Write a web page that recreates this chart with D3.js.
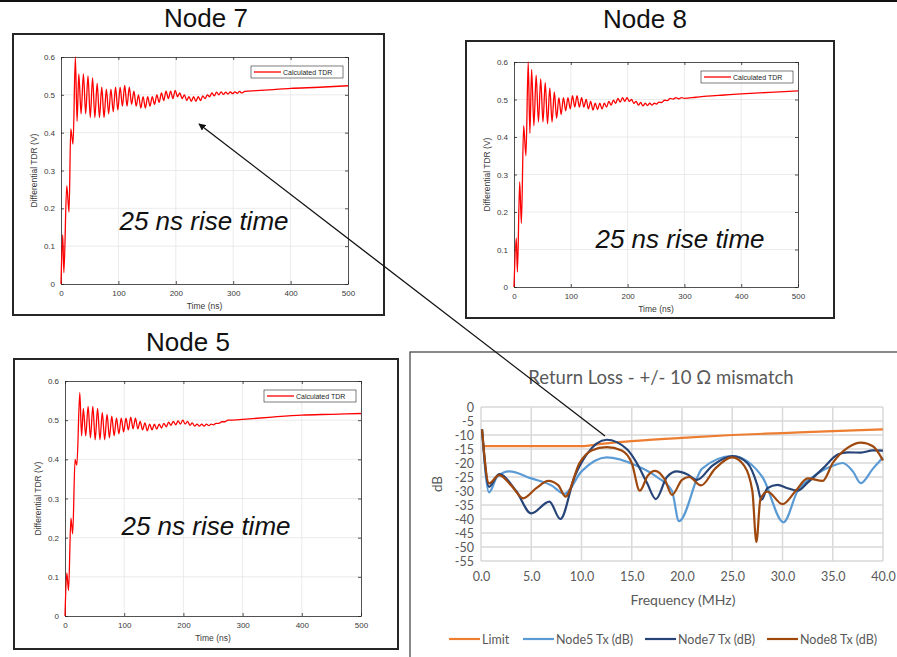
<!DOCTYPE html>
<html>
<head>
<meta charset="utf-8">
<script src="https://cdn.jsdelivr.net/npm/d3@7"></script>
<style>
  body { margin: 0; background: #fff; }
  svg { display: block; }
</style>
</head>
<body>
<div class="container"></div>
<script>
const W = 897, H = 657;

// ---- TDR data (time ns, volts) ----
const timeTicks = [0, 100, 200, 300, 400, 500];
const voltTicks = [0, 0.1, 0.2, 0.3, 0.4, 0.5, 0.6];

const node7Tdr = [
  [0,0],[3,0.13],[5,0.03],[10,0.26],[14,0.19],[17,0.41],[21,0.37],[25,0.6],[28,0.43],
  [31,0.555],[35,0.45],[39,0.555],[43,0.45],[47,0.55],[51,0.44],[55,0.545],[59,0.44],
  [63,0.53],[67,0.44],[71,0.52],[75,0.44],[79,0.515],[83,0.45],[87,0.515],[91,0.455],
  [95,0.52],[99,0.46],[103,0.52],[107,0.47],[111,0.525],[115,0.47],[119,0.52],[123,0.475],
  [127,0.51],[131,0.47],[135,0.5],[139,0.465],[143,0.495],[147,0.465],[151,0.495],[155,0.47],
  [159,0.495],[163,0.475],[167,0.5],[171,0.48],[175,0.505],[179,0.485],[183,0.51],[187,0.49],
  [191,0.51],[195,0.49],[199,0.512],[203,0.495],[207,0.505],[211,0.49],[215,0.5],[219,0.485],
  [223,0.495],[227,0.483],[231,0.495],[235,0.483],[239,0.495],[243,0.485],[247,0.497],[251,0.49],
  [255,0.5],[259,0.495],[263,0.505],[267,0.497],[271,0.507],[275,0.5],[279,0.508],[283,0.501],
  [287,0.507],[291,0.502],[295,0.508],[299,0.503],[303,0.508],[307,0.504],[311,0.509],[315,0.505],
  [320,0.509],[340,0.511],[370,0.514],[400,0.517],[450,0.52],[500,0.524]
];

const node8Tdr = [
  [0,0],[4,0.13],[6,0.04],[10,0.28],[13,0.17],[17,0.43],[21,0.35],[25,0.6],[28,0.41],
  [31,0.58],[35,0.43],[39,0.565],[43,0.44],[47,0.555],[51,0.44],[55,0.545],[59,0.435],
  [63,0.53],[67,0.44],[71,0.52],[75,0.45],[79,0.505],[83,0.46],[87,0.505],[91,0.47],
  [95,0.505],[99,0.475],[103,0.51],[107,0.48],[111,0.51],[115,0.48],[119,0.505],[123,0.48],
  [127,0.5],[131,0.475],[135,0.495],[139,0.472],[143,0.49],[147,0.473],[151,0.49],[155,0.475],
  [159,0.49],[163,0.48],[167,0.495],[171,0.485],[175,0.498],[179,0.49],[183,0.503],[187,0.493],
  [191,0.505],[195,0.495],[199,0.505],[203,0.495],[207,0.5],[211,0.49],[215,0.495],[219,0.485],
  [223,0.492],[227,0.483],[231,0.49],[235,0.484],[239,0.49],[243,0.485],[247,0.49],[251,0.488],
  [255,0.493],[260,0.492],[265,0.498],[270,0.497],[275,0.503],[280,0.501],[285,0.505],[290,0.502],
  [295,0.505],[300,0.503],[320,0.506],[340,0.509],[370,0.512],[400,0.515],[450,0.519],[500,0.523]
];

const node5Tdr = [
  [0,0],[3,0.11],[6,0.065],[10,0.25],[13,0.21],[17,0.4],[20,0.385],[25,0.57],[28,0.46],
  [31,0.53],[35,0.46],[39,0.535],[43,0.455],[47,0.535],[51,0.45],[55,0.53],[59,0.45],
  [63,0.52],[67,0.45],[71,0.515],[75,0.455],[79,0.51],[83,0.46],[87,0.505],[91,0.465],
  [95,0.505],[99,0.47],[103,0.505],[107,0.475],[111,0.508],[115,0.478],[119,0.505],[123,0.478],
  [127,0.497],[131,0.475],[135,0.493],[139,0.473],[143,0.49],[147,0.475],[151,0.49],[155,0.477],
  [159,0.49],[163,0.48],[167,0.492],[171,0.483],[175,0.495],[179,0.487],[183,0.497],[187,0.488],
  [191,0.498],[195,0.49],[199,0.5],[203,0.49],[207,0.497],[211,0.487],[215,0.493],[219,0.485],
  [223,0.49],[227,0.485],[231,0.49],[235,0.485],[239,0.49],[243,0.486],[247,0.49],[251,0.488],
  [255,0.492],[260,0.492],[265,0.496],[270,0.496],[275,0.5],[285,0.5],[300,0.502],[350,0.508],
  [400,0.513],[450,0.515],[500,0.517]
];

// ---- Return loss data (frequency MHz, dB) ----
const freqTicks = [0, 5, 10, 15, 20, 25, 30, 35, 40];
const dbTicks = [0, -5, -10, -15, -20, -25, -30, -35, -40, -45, -50, -55];
const rlSeries = ["Limit", "Node5 Tx (dB)", "Node7 Tx (dB)", "Node8 Tx (dB)"];
const rlColors = ["#ED7D31", "#5B9BD5", "#264478", "#9E480E"];

const limitDb = [[0.2,-14],[10,-14],[12,-13.2],[15,-12.2],[20,-11],[25,-10],[30,-9.3],[35,-8.6],[40,-8]];
const node5Db = [
  [0.1,-8],[0.8,-30.5],[1.6,-25],[2.8,-23],[5,-25.5],[7,-28],[8.3,-31],[10,-23],[12.5,-18],
  [15.5,-21],[17.5,-25],[19,-30],[19.7,-40.8],[22,-22],[25,-17.5],[28,-25],[30.1,-41.2],
  [31.5,-30],[33,-25],[35,-21],[36,-20],[37,-23],[37.8,-27.2],[39,-22],[40,-18]
];
const node7Db = [
  [0.1,-8],[0.8,-28.5],[1.8,-24],[3.5,-30],[5,-38],[6.8,-33.8],[7.9,-40],[9.3,-25],[10.5,-17],
  [12.5,-11.7],[14.5,-15],[15.5,-20],[16.5,-27],[17.4,-32.9],[18.5,-25],[19.5,-23],[20.5,-24],
  [21.5,-26],[23,-21],[25,-17.5],[26.5,-20],[27.5,-28],[27.9,-33.2],[28.5,-29],[29.5,-27.8],
  [30.5,-29],[31.5,-29.9],[32.5,-27],[34,-22],[35.5,-17],[36.5,-16.2],[37.8,-16.3],[39,-15.5],[40,-15.6]
];
const node8Db = [
  [0.1,-8],[0.8,-27.3],[1.8,-24.3],[3,-28],[4.2,-32.6],[5.5,-29],[6.7,-26.4],[7.7,-28],[8.4,-32],
  [9.8,-20],[11,-15.5],[12.5,-14.3],[14,-15.5],[15,-20],[15.8,-29.9],[16.6,-24.5],[17.3,-22.8],
  [18.3,-26],[19,-31.4],[20,-26],[20.7,-25],[21.9,-28],[23.3,-22],[25,-18],[26.2,-21],[27,-30],
  [27.4,-48.2],[27.8,-33],[28.5,-30.2],[30,-34.7],[31.3,-30],[32.5,-25.5],[34,-26.4],[35,-20],
  [36.5,-14.5],[37.8,-12.7],[39,-14],[40,-19.1]
];
const rlData = [limitDb, node5Db, node7Db, node8Db];

const svg = d3.select(".container").append("svg")
  .attr("width", W).attr("height", H)
  .attr("viewBox", [0, 0, W, H]);

svg.append("defs").append("marker")
  .attr("id", "arrowHead")
  .attr("viewBox", "0 0 10 10")
  .attr("refX", 9).attr("refY", 5)
  .attr("markerWidth", 7).attr("markerHeight", 7)
  .attr("markerUnits", "userSpaceOnUse")
  .attr("orient", "auto")
  .append("path").attr("d", "M0,0L10,5L0,10Z").attr("fill", "#111");

// top rule
svg.append("line").attr("x1", 0).attr("x2", W).attr("y1", 1).attr("y2", 1)
  .attr("stroke", "#111").attr("stroke-width", 2);

const matFont = "'Liberation Sans', Arial, sans-serif";

function drawNode(p) {
  const g = svg.append("g");
  g.append("rect")
    .attr("x", p.frame[0]).attr("y", p.frame[1])
    .attr("width", p.frame[2] - p.frame[0]).attr("height", p.frame[3] - p.frame[1])
    .attr("fill", "#fff").attr("stroke", "#262626").attr("stroke-width", 2);

  g.append("text").attr("x", p.title[0]).attr("y", p.title[1])
    .attr("text-anchor", "middle").attr("font-family", matFont).attr("font-size", 26)
    .attr("fill", "#111").text(p.name);

  const x = d3.scaleLinear().domain([0, 500]).range([p.plot[0], p.plot[2]]);
  const y = d3.scaleLinear().domain([0, 0.6]).range([p.plot[3], p.plot[1]]);

  // grid
  g.append("g").selectAll("line").data(timeTicks.slice(1, -1)).join("line")
    .attr("x1", d => x(d)).attr("x2", d => x(d)).attr("y1", y(0)).attr("y2", y(0.6))
    .attr("stroke", "#e6e6e6").attr("stroke-width", 0.8);
  g.append("g").selectAll("line").data(voltTicks.slice(1, -1)).join("line")
    .attr("y1", d => y(d)).attr("y2", d => y(d)).attr("x1", x(0)).attr("x2", x(500))
    .attr("stroke", "#e6e6e6").attr("stroke-width", 0.8);

  const fmtV = d3.format("~g");
  const axes = [
    [d3.axisBottom(x).tickValues(timeTicks), `translate(0,${y(0)})`],
    [d3.axisTop(x).tickValues(timeTicks).tickFormat(""), `translate(0,${y(0.6)})`],
    [d3.axisLeft(y).tickValues(voltTicks).tickFormat(fmtV), `translate(${x(0)},0)`],
    [d3.axisRight(y).tickValues(voltTicks).tickFormat(""), `translate(${x(500)},0)`]
  ];
  axes.forEach(([ax, tr]) => {
    const a = g.append("g").attr("transform", tr)
      .call(ax.tickSizeInner(-3).tickSizeOuter(0).tickPadding(6));
    a.select(".domain").attr("stroke", "#262626").attr("stroke-width", 0.8);
    a.selectAll(".tick line").attr("stroke", "#262626").attr("stroke-width", 0.8);
    a.selectAll("text").attr("font-family", matFont).attr("font-size", 8).attr("fill", "#3a3a3a");
  });

  g.append("text")
    .attr("transform", `translate(${p.plot[0] - 24},${(p.plot[1] + p.plot[3]) / 2}) rotate(-90)`)
    .attr("text-anchor", "middle").attr("font-family", matFont).attr("font-size", 8.5)
    .attr("fill", "#3a3a3a").text("Differential TDR (V)");
  g.append("text")
    .attr("x", (p.plot[0] + p.plot[2]) / 2).attr("y", p.plot[3] + 25)
    .attr("text-anchor", "middle").attr("font-family", matFont).attr("font-size", 8.5)
    .attr("fill", "#3a3a3a").text("Time (ns)");

  const line = d3.line().x(d => x(d[0])).y(d => y(d[1])).curve(d3.curveMonotoneX);
  g.append("path").datum(p.data)
    .attr("fill", "none").attr("stroke", "#ff0000").attr("stroke-width", 1.3)
    .attr("d", line);

  // legend
  const lx = p.plot[2] - 97, ly = p.plot[1] + 9;
  g.append("rect").attr("x", lx).attr("y", ly).attr("width", 92).attr("height", 12)
    .attr("fill", "#fff").attr("stroke", "#262626").attr("stroke-width", 0.6);
  g.append("line").attr("x1", lx + 3).attr("x2", lx + 30).attr("y1", ly + 6).attr("y2", ly + 6)
    .attr("stroke", "#ff0000").attr("stroke-width", 1.3);
  g.append("text").attr("x", lx + 32).attr("y", ly + 8.7)
    .attr("font-family", matFont).attr("font-size", 7).attr("fill", "#262626")
    .text("Calculated TDR");

  g.append("text").attr("x", p.rise[0]).attr("y", p.rise[1])
    .attr("text-anchor", "middle").attr("font-family", matFont).attr("font-style", "italic")
    .attr("font-size", 26).attr("fill", "#111").text("25 ns rise time");
}

drawNode({ name: "Node 7", frame: [13, 34, 384, 315], plot: [61, 57, 348, 284],
  title: [206, 27], rise: [204, 230], data: node7Tdr });
drawNode({ name: "Node 8", frame: [466, 41, 834, 318], plot: [514, 62, 798, 287],
  title: [645, 28], rise: [680, 248], data: node8Tdr });
drawNode({ name: "Node 5", frame: [14, 359, 398, 649], plot: [65, 381, 361, 616],
  title: [188, 351], rise: [206, 535], data: node5Tdr });

// ---- Return loss (Excel style) ----
const xlFont = "Lato, 'Open Sans', sans-serif";
const rl = svg.append("g");
rl.append("rect").attr("x", 410).attr("y", 352).attr("width", W).attr("height", H)
  .attr("fill", "#fff").attr("stroke", "#3a3a3a").attr("stroke-width", 1.2);

const fx = d3.scaleLinear().domain([0, 40]).range([481, 883]);
const fy = d3.scaleLinear().domain([-55, 0]).range([561, 407]);

rl.append("g").selectAll("line").data(freqTicks).join("line")
  .attr("x1", d => fx(d)).attr("x2", d => fx(d)).attr("y1", fy(0)).attr("y2", fy(-55))
  .attr("stroke", "#d9d9d9").attr("stroke-width", 1.5);
rl.append("g").selectAll("line").data(dbTicks).join("line")
  .attr("y1", d => fy(d)).attr("y2", d => fy(d)).attr("x1", fx(0)).attr("x2", fx(40))
  .attr("stroke", "#d9d9d9").attr("stroke-width", 1.5);

const xAx = rl.append("g").attr("transform", `translate(0,${fy(-55)})`)
  .call(d3.axisBottom(fx).tickValues(freqTicks).tickFormat(d3.format(".1f")).tickSize(0).tickPadding(11));
const yAx = rl.append("g").attr("transform", `translate(${fx(0)},0)`)
  .call(d3.axisLeft(fy).tickValues(dbTicks).tickFormat(d => d).tickSize(0).tickPadding(7));
[xAx, yAx].forEach(a => {
  a.select(".domain").remove();
  a.selectAll("text").attr("font-family", xlFont).attr("font-size", 12.5).attr("fill", "#595959");
});

rl.append("text").attr("x", 661).attr("y", 384).attr("text-anchor", "middle")
  .attr("font-family", xlFont).attr("font-size", 18.5).attr("fill", "#595959")
  .text("Return Loss - +/- 10 Ω mismatch");
rl.append("text").attr("x", 683).attr("y", 605).attr("text-anchor", "middle")
  .attr("font-family", xlFont).attr("font-size", 14).attr("fill", "#595959")
  .text("Frequency (MHz)");
rl.append("text").attr("transform", `translate(442,484) rotate(-90)`).attr("text-anchor", "middle")
  .attr("font-family", xlFont).attr("font-size", 13.5).attr("fill", "#595959").text("dB");

const rlLine = d3.line().x(d => fx(d[0])).y(d => fy(d[1])).curve(d3.curveMonotoneX);
rl.append("g").selectAll("path").data(rlData).join("path")
  .attr("fill", "none").attr("stroke", (d, i) => rlColors[i]).attr("stroke-width", 2.2)
  .attr("stroke-linejoin", "round").attr("d", rlLine);

const legX = [449, 523, 645, 767];
const leg = rl.append("g").selectAll("g").data(rlSeries).join("g")
  .attr("transform", (d, i) => `translate(${legX[i]},639)`);
leg.append("line").attr("x1", 0).attr("x2", 31).attr("stroke", (d, i) => rlColors[i]).attr("stroke-width", 2.2);
leg.append("text").attr("x", 33).attr("y", 4.5).attr("font-family", xlFont).attr("font-size", 12.5)
  .attr("fill", "#595959").text(d => d);

// annotation arrow from the return loss peak back to the Node 7 plot
svg.append("line").attr("x1", 605).attr("y1", 436).attr("x2", 199).attr("y2", 124)
  .attr("stroke", "#111").attr("stroke-width", 1.3).attr("marker-end", "url(#arrowHead)");
</script>
</body>
</html>
